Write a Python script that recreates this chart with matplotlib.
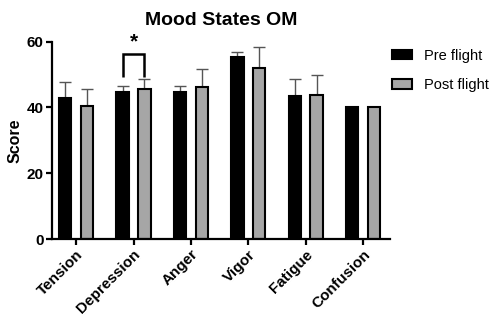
import numpy as np
import matplotlib
matplotlib.use("Agg")
from matplotlib import pyplot as plt

plt.rcParams['font.family'] = ['Liberation Sans', 'DejaVu Sans']

# data
categories = ['Tension', 'Depression', 'Anger', 'Vigor', 'Fatigue', 'Confusion']
pre_mean = [42.9, 44.8, 44.8, 55.2, 43.6, 40.0]
pre_err = [4.9, 1.8, 1.8, 1.7, 5.0, 0.0]
post_mean = [40.4, 45.5, 46.3, 51.9, 43.8, 40.0]
post_err = [5.2, 3.0, 5.3, 6.5, 6.0, 0.0]

x = np.arange(len(categories))
off = 0.19
w = 0.215

fig = plt.figure(figsize=(4.98, 3.2), dpi=100)
ax = fig.add_axes([0.1044, 0.253, 0.679, 0.617])

ax.bar(x - off, pre_mean, w, color='black', edgecolor='black', linewidth=1.5,
       label='Pre flight', zorder=2)
ax.bar(x + off, post_mean, w, color='#a6a6a6', edgecolor='black', linewidth=1.5,
       label='Post flight', zorder=2)

# upward-only error bars
ax.errorbar(x - off, pre_mean, yerr=[np.zeros(len(x)), pre_err], fmt='none',
            ecolor='#555555', elinewidth=1.0, capsize=4, capthick=1.0, zorder=1)
ax.errorbar(x + off, post_mean, yerr=[np.zeros(len(x)), post_err], fmt='none',
            ecolor='#555555', elinewidth=1.0, capsize=4, capthick=1.0, zorder=1)

# significance bracket on Depression
bx = [x[1] - off, x[1] - off, x[1] + off, x[1] + off]
by = [49.2, 56.3, 56.3, 49.2]
ax.plot(bx, by, color='black', linewidth=1.8, solid_capstyle='butt',
        solid_joinstyle='miter', clip_on=False)
ax.text(x[1], 57.0, '*', ha='center', va='bottom', fontsize=15,
        fontweight='bold', clip_on=False)

ax.set_xlim(-0.42, 5.47)
ax.set_ylim(0, 60)
ax.set_yticks([0, 20, 40, 60])
ax.set_xticks(x)
ax.set_xticklabels(categories, rotation=45, ha='right', rotation_mode='anchor',
                   fontsize=11, fontweight='bold')
for lab in ax.get_yticklabels():
    lab.set_fontweight('bold')
    lab.set_fontsize(11)

ax.spines['top'].set_visible(False)
ax.spines['right'].set_visible(False)
ax.spines['left'].set_linewidth(1.6)
ax.spines['bottom'].set_linewidth(1.6)
ax.tick_params(axis='both', width=1.6, length=4, pad=2)

ax.set_ylabel('Score', fontsize=11.5, fontweight='bold', labelpad=3)
ax.set_title('Mood States OM', fontsize=14, fontweight='bold', pad=12)

leg = ax.legend(loc='upper left', bbox_to_anchor=(1.0, 0.975), frameon=False,
                fontsize=10.5, handlelength=1.35, handleheight=0.6,
                labelspacing=1.05, handletextpad=0.85, borderaxespad=0.05,
                borderpad=0.1)

fig.savefig('out.png', dpi=100)
